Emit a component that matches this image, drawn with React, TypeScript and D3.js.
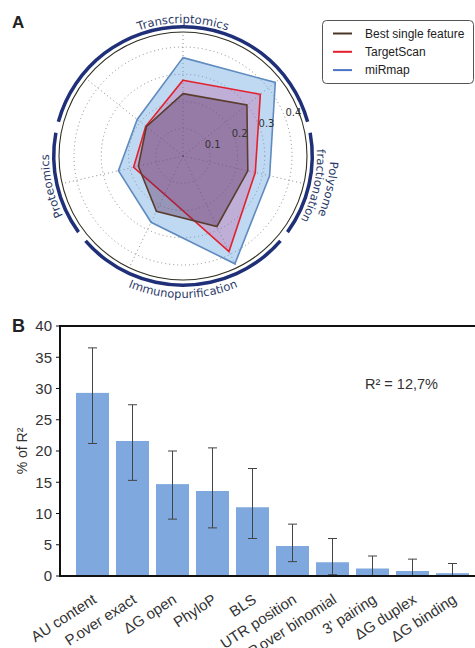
import React from 'react';
import * as d3 from 'd3';

// ---------- Panel A data ----------
const radarAxisIndex = [0, 1, 2, 3, 4, 5, 6];
const bestSingleFeature = [0.229, 0.300, 0.244, 0.287, 0.225, 0.168, 0.172];
const targetScan = [0.278, 0.363, 0.272, 0.389, 0.156, 0.186, 0.175];
const miRmap = [0.361, 0.433, 0.326, 0.439, 0.270, 0.243, 0.215];
const radialTicks = [0.1, 0.2, 0.3, 0.4];
const groupNames = ['Transcriptomics', 'Polysome fractionation', 'Immunopurification', 'Proteomics'];
const groupStartAxis = [-1.5, 1.5, 2.5, 4.5];
const groupEndAxis = [1.5, 2.5, 4.5, 5.5];
const legendNames = ['Best single feature', 'TargetScan', 'miRmap'];

// ---------- Panel B data ----------
const features = ['AU content', 'P.over exact', 'ΔG open', 'PhyloP', 'BLS', 'UTR position', 'P.over binomial', "3' pairing", 'ΔG duplex', 'ΔG binding'];
const pctR2 = [29.3, 21.6, 14.7, 13.6, 11.0, 4.8, 2.2, 1.2, 0.8, 0.45];
const errHigh = [36.5, 27.4, 20.0, 20.5, 17.2, 8.3, 6.0, 3.2, 2.7, 2.0];
const errLow = [21.2, 15.3, 9.1, 7.7, 6.0, 2.3, 0.2, 0, 0, 0];
const yTicks = [0, 5, 10, 15, 20, 25, 30, 35, 40];

const N = 7;
const deg = Math.PI / 180;

function pt(cx: number, cy: number, r: number, aDeg: number) {
  return [cx + r * Math.sin(aDeg * deg), cy - r * Math.cos(aDeg * deg)];
}
function arcPath(cx: number, cy: number, R: number, a0: number, a1: number, sweep: number) {
  const p0 = pt(cx, cy, R, a0);
  const p1 = pt(cx, cy, R, a1);
  const large = Math.abs(a1 - a0) > 180 ? 1 : 0;
  return `M${p0[0]},${p0[1]} A${R},${R} 0 ${large} ${sweep} ${p1[0]},${p1[1]}`;
}

export default function App() {
  // Radar geometry
  const cx = 183, cy = 156;
  const rOuter = 124;
  const rScale = d3.scaleLinear().domain([0, 0.455]).range([0, rOuter]);
  const step = 360 / N;
  const radial = d3
    .lineRadial<number>()
    .angle((_d, i) => (i * 2 * Math.PI) / N)
    .radius((d) => rScale(d))
    .curve(d3.curveLinearClosed);
  const gap = 2.5;
  const bandArc = d3.arc<any>().innerRadius(127.5).outerRadius(131);

  const series = [
    { vals: miRmap, fill: 'rgba(105,165,225,0.42)', stroke: '#5f8bbf' },
    { vals: targetScan, fill: 'rgba(190,60,140,0.27)', stroke: '#e3202c' },
    { vals: bestSingleFeature, fill: 'rgba(85,40,90,0.38)', stroke: '#5a3d2e' },
  ];
  const legendColors = ['#4a3626', '#e3202c', '#4a74c6'];

  const labelFont = '"DejaVu Sans", sans-serif';
  const labelColor = '#2c3a68';
  const navy = '#1f2f78';

  // Bar chart geometry
  const x = d3.scaleBand<string>().domain(features).range([60, 485]).paddingInner(0.175).paddingOuter(0.4);
  const y = d3.scaleLinear().domain([0, 40]).range([576, 326]);
  const bFont = '"Liberation Sans", Arial, sans-serif';
  const cap = 4.5;

  return (
    <svg width={475} height={648} style={{ position: 'absolute', left: 0, top: 0, background: '#fff' }}>
      <defs>
        <path id="tp-trans" d={arcPath(cx, cy, 133, -60, 60, 1)} />
        <path id="tp-poly1" d={arcPath(cx, cy, 147, 2 * step - 50, 2 * step + 50, 1)} />
        <path id="tp-poly2" d={arcPath(cx, cy, 134, 2 * step - 50, 2 * step + 50, 1)} />
        <path id="tp-immuno" d={arcPath(cx, cy, 142, 180 + 60, 180 - 60, 0)} />
        <path id="tp-prot" d={arcPath(cx, cy, 134, 5 * step - 50, 5 * step + 50, 1)} />
      </defs>

      {/* Panel A label */}
      <text x={12} y={28} fontFamily={bFont} fontWeight="bold" fontSize={17} fill="#222">A</text>

      {/* radar grid */}
      <g>
        {radialTicks.map((t) => (
          <circle key={t} cx={cx} cy={cy} r={rScale(t)} fill="none" stroke="#8a8a8a" strokeWidth={1} strokeDasharray="1,3" />
        ))}
        {radarAxisIndex.map((k) => {
          const p = pt(cx, cy, rOuter, k * step);
          return <line key={k} x1={cx} y1={cy} x2={p[0]} y2={p[1]} stroke="#8a8a8a" strokeWidth={1} strokeDasharray="1,3" />;
        })}
        <circle cx={cx} cy={cy} r={1.2} fill="#666" />
      </g>

      {/* polygons */}
      {series.map((s, i) => (
        <path key={i} d={radial(s.vals) as string} transform={`translate(${cx},${cy})`} fill={s.fill} stroke={s.stroke} strokeWidth={1.6} strokeLinejoin="miter" />
      ))}

      {/* radial tick labels */}
      {radialTicks.map((t) => {
        const p = pt(cx, cy, rScale(t) * 1.06 + 3, 68.6);
        return (
          <text key={t} x={p[0]} y={p[1]} fontFamily={labelFont} fontSize={10} fill="#333" textAnchor="middle" dominantBaseline="central">
            {t.toFixed(1)}
          </text>
        );
      })}

      {/* outer circle */}
      <circle cx={cx} cy={cy} r={rOuter} fill="none" stroke="#2e2e22" strokeWidth={1.1} />

      {/* group arcs */}
      {groupNames.map((g, i) => (
        <path
          key={g}
          transform={`translate(${cx},${cy})`}
          d={bandArc({ startAngle: (groupStartAxis[i] * step + gap) * deg, endAngle: (groupEndAxis[i] * step - gap) * deg }) as string}
          fill={navy}
        />
      ))}

      {/* group labels */}
      <g fontFamily={labelFont} fontSize={11.5} fill={labelColor}>
        <text>
          <textPath href="#tp-trans" startOffset="50%" textAnchor="middle">{groupNames[0]}</textPath>
        </text>
        <text>
          <textPath href="#tp-poly1" startOffset="50%" textAnchor="middle">Polysome</textPath>
        </text>
        <text>
          <textPath href="#tp-poly2" startOffset="50%" textAnchor="middle">fractionation</textPath>
        </text>
        <text>
          <textPath href="#tp-immuno" startOffset="50%" textAnchor="middle">{groupNames[2]}</textPath>
        </text>
        <text>
          <textPath href="#tp-prot" startOffset="50%" textAnchor="middle">{groupNames[3]}</textPath>
        </text>
      </g>

      {/* legend */}
      <g>
        <rect x={322.5} y={20.5} width={151} height={63} rx={4} ry={4} fill="#fff" stroke="#555" strokeWidth={1} />
        {legendNames.map((n, i) => (
          <g key={n}>
            <line x1={333} x2={352} y1={33.5 + i * 18.3} y2={33.5 + i * 18.3} stroke={legendColors[i]} strokeWidth={2} />
            <text x={365} y={33.5 + i * 18.3} dy="0.35em" fontFamily={bFont} fontSize={12} fill="#222">{n}</text>
          </g>
        ))}
      </g>

      {/* Panel B */}
      <text x={12} y={332} fontFamily={bFont} fontWeight="bold" fontSize={18} fill="#222">B</text>

      {/* bars */}
      {features.map((f, i) => (
        <rect key={f} x={x(f)} y={y(pctR2[i])} width={x.bandwidth()} height={y(0) - y(pctR2[i])} fill="#7ea8de" />
      ))}
      {/* error bars */}
      {features.map((f, i) => {
        const c = (x(f) as number) + x.bandwidth() / 2;
        return (
          <g key={f} stroke="#444" strokeWidth={1}>
            <line x1={c} x2={c} y1={y(errHigh[i])} y2={y(errLow[i])} />
            <line x1={c - cap} x2={c + cap} y1={y(errHigh[i])} y2={y(errHigh[i])} />
            <line x1={c - cap} x2={c + cap} y1={y(errLow[i])} y2={y(errLow[i])} />
          </g>
        );
      })}

      {/* spines */}
      <line x1={60} x2={485} y1={326} y2={326} stroke="#111" strokeWidth={2} />
      <line x1={60} x2={485} y1={576} y2={576} stroke="#111" strokeWidth={2} />
      <line x1={60} x2={60} y1={325} y2={577} stroke="#111" strokeWidth={2} />

      {/* y ticks */}
      {yTicks.map((t) => (
        <g key={t}>
          <line x1={56} x2={60} y1={y(t)} y2={y(t)} stroke="#111" strokeWidth={1} />
          <text x={52} y={y(t)} dy="0.36em" textAnchor="end" fontFamily={bFont} fontSize={15} fill="#333">{t}</text>
        </g>
      ))}
      <text transform="translate(27,451) rotate(-90)" textAnchor="middle" fontFamily={bFont} fontSize={14} fill="#333">% of R²</text>

      <text x={365} y={389} fontFamily={bFont} fontSize={14.5} fill="#333">R² = 12,7%</text>

      {/* x labels */}
      {features.map((f) => {
        const c = (x(f) as number) + x.bandwidth() / 2;
        return (
          <text key={f} transform={`translate(${c + 5},602) rotate(-33)`} textAnchor="end" fontFamily={bFont} fontSize={15} fill="#333">
            {f}
          </text>
        );
      })}
    </svg>
  );
}
